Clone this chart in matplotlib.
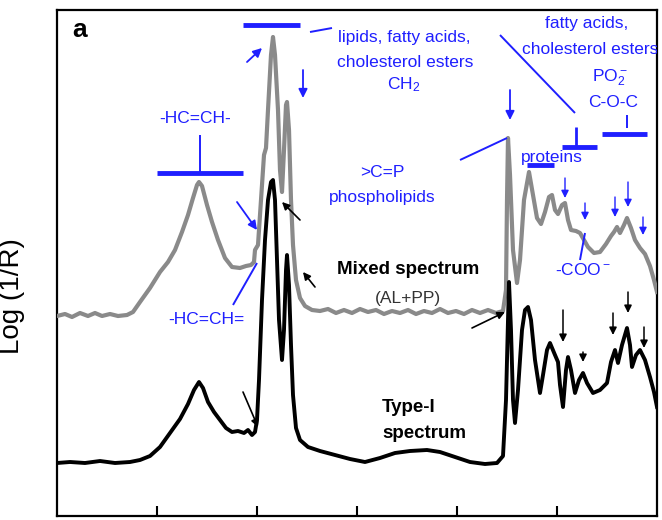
import matplotlib
matplotlib.use('Agg')
import matplotlib.pyplot as plt
import numpy as np

plt.rcParams['font.family'] = ['Liberation Sans', 'DejaVu Sans']
plt.rcParams['mathtext.default'] = 'regular'

# spectra (arbitrary units, x = band position, y = log(1/R))
mixed_x = [0, 8, 15, 23, 31, 38, 45, 53, 61, 70, 76, 83, 93, 103, 111, 118, 125, 131, 136, 140,
           142, 145, 150, 155, 161, 168, 175, 183, 189, 194, 197, 198, 201, 204, 207, 209, 211, 214,
           216, 218, 221, 223, 225, 227, 229, 230, 232, 234, 236, 239, 243, 248, 255,
           263, 271, 279, 287, 295, 303, 311, 319, 327, 335, 343, 351, 359, 367, 375, 383, 391,
           399, 407, 415, 423, 431, 439, 446, 449, 450, 451, 453, 456, 460, 463, 467, 472, 476,
           480, 484, 488, 492, 495, 498, 501, 505, 508, 511, 514, 519, 523, 527, 531, 537, 543,
           549, 554, 557, 560, 563, 567, 570, 574, 578, 583, 588, 593, 597, 600]
mixed_y = [200, 202, 199, 203, 200, 203, 200, 202, 200, 201, 204, 214, 228, 244, 254, 266, 284, 301, 318, 331,
           334, 330, 311, 294, 276, 258, 249, 248, 250, 251, 254, 266, 271, 316, 361, 368, 406, 461,
           479, 461, 406, 346, 324, 366, 411, 414, 386, 316, 271, 236, 218, 210, 206,
           205, 207, 203, 206, 203, 207, 204, 206, 202, 205, 203, 206, 202, 205, 203, 207, 203,
           205, 202, 206, 203, 206, 203, 205, 226, 316, 378, 341, 266, 233, 256, 316, 344, 321,
           298, 292, 304, 319, 321, 306, 302, 311, 313, 296, 286, 285, 283, 276, 269, 263, 264,
           272, 280, 284, 289, 283, 291, 298, 288, 276, 268, 262, 250, 236, 224]

type1_x = [0, 13, 28, 43, 58, 73, 83, 93, 103, 113, 123, 131, 137, 142, 146, 151, 157, 163, 169, 175,
           181, 187, 191, 195, 198, 200, 202, 205, 208, 211, 214, 216, 218, 220, 222, 225, 227, 229,
           230, 232, 234, 236, 239, 243, 251, 263, 278, 293, 308, 323, 338, 353, 370, 383, 398, 413,
           428, 440, 446, 449, 451, 452, 454, 456, 458, 461, 465, 468, 471, 474, 478, 483, 486, 490,
           493, 498, 501, 503, 506, 509, 511, 514, 518, 522, 526, 530, 536, 543, 550, 554, 558, 561,
           565, 570, 573, 575, 579, 583, 588, 593, 597, 600]
type1_y = [53, 54, 53, 55, 53, 54, 56, 60, 69, 83, 97, 112, 126, 134, 128, 114, 104, 96, 88, 84,
           85, 83, 86, 81, 84, 96, 136, 216, 276, 316, 334, 336, 316, 256, 196, 156, 186, 246,
           261, 231, 171, 121, 88, 76, 69, 65, 61, 57, 54, 58, 63, 65, 66, 64, 59, 54,
           52, 53, 60, 116, 196, 234, 186, 116, 93, 126, 186, 206, 209, 196, 156, 123, 141, 166,
           173, 161, 154, 131, 109, 146, 159, 146, 123, 136, 143, 133, 123, 126, 133, 154, 166, 153,
           171, 188, 171, 149, 161, 166, 156, 139, 124, 109]

bottom_ticks = [100, 200, 300, 400, 500]

BLUE = '#1f1fff'
GRAY = '#8a8a8a'

fig = plt.figure(figsize=(6.62, 5.20), dpi=100)
ax = fig.add_axes([57 / 662, 4 / 520, 600 / 662, 506 / 520])

ax.plot(mixed_x, mixed_y, color=GRAY, lw=3.0, solid_joinstyle='round', zorder=3)
ax.plot(type1_x, type1_y, color='black', lw=2.8, solid_joinstyle='round', zorder=4)

ax.set_xlim(0, 600)
ax.set_ylim(0, 506)
ax.set_xticks(bottom_ticks)
ax.set_xticklabels([])
ax.set_yticks([])
ax.tick_params(axis='x', direction='in', length=7, width=1.5)
for s in ax.spines.values():
    s.set_linewidth(1.6)

ax.set_ylabel('Log (1/R)', fontsize=20)
ax.yaxis.set_label_coords(-32 / 600, 220 / 506)

ax.text(23, 486, 'a', fontsize=19, fontweight='bold', ha='center', va='center')


def blue_line(x, y, lw=1.4):
    ax.plot(x, y, color=BLUE, lw=lw, solid_capstyle='butt', zorder=5)


def arrow(x0, y0, x1, y1, color=BLUE, ms=13, lw=1.3):
    ax.annotate('', xy=(x1, y1), xytext=(x0, y0),
                arrowprops=dict(arrowstyle='-|>', color=color, lw=lw,
                                mutation_scale=ms, shrinkA=0, shrinkB=0), zorder=6)


tk = dict(color=BLUE, fontsize=12.5, ha='center', va='center')

# -HC=CH- band
ax.text(138, 398, '-HC=CH-', **tk)
blue_line([143, 143], [381, 344])
blue_line([100, 186], [343, 343], lw=3.5)
arrow(180, 314, 200, 286)
ax.text(149, 197, '-HC=CH=', **tk)
blue_line([176, 200], [211, 253])

# CH2 bands
blue_line([186, 243], [491, 491], lw=3.5)
blue_line([253, 275], [484, 488])
arrow(190, 454, 205, 468)
arrow(246, 446, 246, 418)
ax.text(347, 479, 'lipids, fatty acids,', **tk)
ax.text(348, 454, 'cholesterol esters', **tk)
ax.text(347, 431, 'CH$_2$', **tk)

# ester / phosphate region
ax.text(530, 493, 'fatty acids,', **tk)
ax.text(465, 467, 'cholesterol esters', color=BLUE, fontsize=12.5, ha='left', va='center',
        clip_on=True)
blue_line([443, 518], [481, 403])
ax.text(553, 438, 'PO$_2^-$', **tk)
ax.text(556, 414, 'C-O-C', **tk)
blue_line([570, 570], [401, 388])
blue_line([545, 590], [382, 382], lw=3.5)
blue_line([519, 519], [389, 369], lw=2)
blue_line([505, 540], [369, 369], lw=3.5)

arrow(453, 426, 453, 396)
blue_line([403, 450], [356, 378])
ax.text(325, 344, '>C=P', **tk)
ax.text(325, 319, 'phospholipids', **tk)
ax.text(495, 359, 'proteins', **tk)
blue_line([470, 497], [351, 351], lw=3.5)

for x0, y0, y1 in [(508, 338, 318), (528, 313, 296), (558, 319, 299),
                   (571, 334, 309), (586, 299, 281)]:
    arrow(x0, y0, x0, y1, ms=11, lw=1)
ax.text(526, 246, '-COO$^-$', **tk)
blue_line([523, 528], [256, 283])

# spectrum labels
ax.text(351, 246, 'Mixed spectrum', fontsize=13.5, fontweight='bold', ha='center', va='center')
ax.text(351, 218, '(AL+PP)', fontsize=12.5, ha='center', va='center', color='#333333')
ax.text(325, 109, 'Type-I', fontsize=13.5, fontweight='bold', ha='left', va='center')
ax.text(325, 83, 'spectrum', fontsize=13.5, fontweight='bold', ha='left', va='center')

# black arrows
arrow(243, 296, 225, 314, color='black', ms=11, lw=1.2)
arrow(258, 229, 246, 244, color='black', ms=11, lw=1.2)
arrow(186, 124, 201, 89, color='black', ms=11, lw=1.2)
arrow(415, 188, 448, 204, color='black', ms=11, lw=1.2)
for x0, y0, y1 in [(506, 206, 174), (526, 164, 154), (556, 203, 181),
                   (571, 224, 203), (587, 189, 168)]:
    arrow(x0, y0, x0, y1, color='black', ms=11, lw=1.1)

fig.savefig('out.png', dpi=100)
